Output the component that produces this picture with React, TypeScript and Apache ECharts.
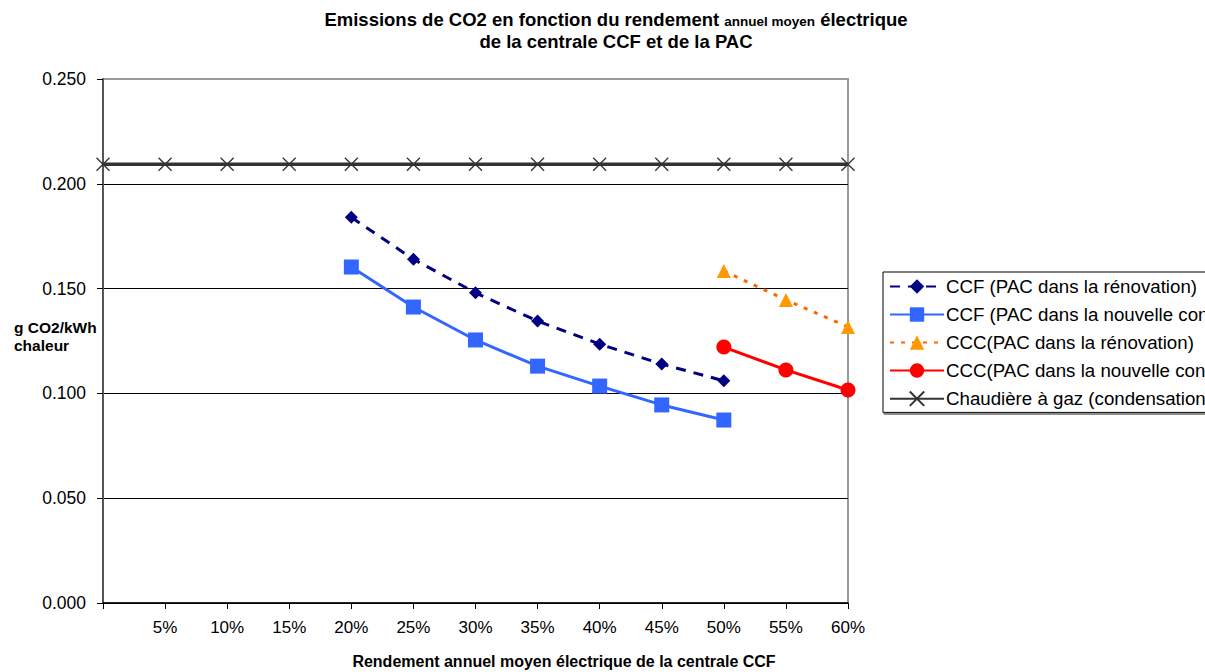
import React, { useEffect, useRef } from "react";
import * as echarts from "echarts";

const xCCF = [20, 25, 30, 35, 40, 45, 50];
const ccfRenovation = [0.184, 0.164, 0.148, 0.1345, 0.1235, 0.114, 0.106];
const ccfNouvelle = [0.1603, 0.1412, 0.1255, 0.113, 0.1035, 0.0945, 0.0873];
const xCCC = [50, 55, 60];
const cccRenovation = [0.1584, 0.1446, 0.1317];
const cccNouvelle = [0.1221, 0.1112, 0.1016];
const xGas = [0, 5, 10, 15, 20, 25, 30, 35, 40, 45, 50, 55, 60];
const gas = [0.2093, 0.2093, 0.2093, 0.2093, 0.2093, 0.2093, 0.2093, 0.2093, 0.2093, 0.2093, 0.2093, 0.2093, 0.2093];

const seriesNames = [
  "CCF (PAC dans la rénovation)",
  "CCF (PAC dans la nouvelle construction)",
  "CCC(PAC dans la rénovation)",
  "CCC(PAC dans la nouvelle construction)",
  "Chaudière à gaz (condensation)",
];

const pair = (xs: number[], ys: number[]) => xs.map((x, i) => [x, ys[i]]);

const FONT = "Arial, 'Liberation Sans', sans-serif";

export default function App() {
  const ref = useRef<HTMLDivElement>(null);
  useEffect(() => {
    if (!ref.current) return;
    const chart = echarts.init(ref.current, undefined, { renderer: "svg" });
    chart.setOption({
      animation: false,
      backgroundColor: "#fff",
      textStyle: { fontFamily: FONT },
      title: {
        text:
          "{b|Emissions de CO2 en fonction du rendement }{s|annuel moyen}{b| électrique}\n{b|de la centrale CCF et de la PAC}",
        left: 611,
        textAlign: "center",
        top: 3,
        textStyle: {
          rich: {
            b: { fontFamily: FONT, fontWeight: "bold", fontSize: 18.5, color: "#000", lineHeight: 22 },
            s: {
              fontFamily: FONT,
              fontWeight: "bold",
              fontSize: 13.5,
              color: "#000",
              lineHeight: 14,
              padding: [4, 0, 0, 0],
              verticalAlign: "middle",
            },
          },
        },
      },
      grid: {
        left: 103,
        right: 357,
        top: 79,
        bottom: 69,
        show: true,
        borderColor: "#999",
        borderWidth: 2,
      },
      legend: {
        orient: "vertical",
        left: 883,
        top: 272,
        padding: [5, 8, 4, 6],
        itemGap: 9,
        itemWidth: 54,
        itemHeight: 18,
        borderColor: "#000",
        borderWidth: 1,
        borderRadius: 0,
        backgroundColor: "#fff",
        shadowColor: "#888",
        shadowOffsetX: 1,
        shadowOffsetY: 2,
        shadowBlur: 0,
        textStyle: { fontFamily: FONT, fontSize: 18.7, color: "#000", lineHeight: 18, padding: [0, 0, 0, -3] },
        data: seriesNames,
      },
      xAxis: {
        type: "value",
        min: 0,
        max: 60,
        interval: 5,
        axisLine: { show: true, onZero: false, lineStyle: { color: "#000", width: 1.5 } },
        axisTick: { show: true, length: 6, lineStyle: { color: "#000" } },
        axisLabel: {
          margin: 16,
          fontFamily: FONT,
          fontSize: 17,
          color: "#000",
          formatter: (v: number) => (v === 0 ? "" : v + "%"),
        },
        splitLine: { show: false },
      },
      yAxis: {
        type: "value",
        min: 0,
        max: 0.25,
        interval: 0.05,
        axisLine: { show: true, lineStyle: { color: "#555", width: 2 } },
        axisTick: { show: true, length: 6, lineStyle: { color: "#000" } },
        axisLabel: {
          margin: 17,
          fontFamily: FONT,
          fontSize: 17.5,
          color: "#000",
          formatter: (v: number) => v.toFixed(3),
        },
        splitLine: { show: true, showMaxLine: false, lineStyle: { color: "#000", width: 1 } },
      },
      graphic: [
        {
          type: "text",
          left: 14,
          top: 318,
          style: {
            text: "g CO2/kWh\nchaleur",
            fontFamily: FONT,
            fontWeight: "bold",
            fontSize: 15.5,
            lineHeight: 18,
            fill: "#000",
          },
        },
        {
          type: "text",
          x: 564,
          y: 661,
          style: {
            text: "Rendement annuel moyen électrique de la centrale CCF",
            fontFamily: FONT,
            fontWeight: "bold",
            fontSize: 16,
            fill: "#000",
            align: "center",
            verticalAlign: "middle",
          },
        },
      ],
      series: [
        {
          name: seriesNames[0],
          type: "line",
          data: pair(xCCF, ccfRenovation),
          symbol: "diamond",
          symbolSize: 13,
          color: "#000080",
          itemStyle: { color: "#000080" },
          lineStyle: { color: "#000080", width: 3, type: [10, 8] },
          z: 4,
        },
        {
          name: seriesNames[1],
          type: "line",
          data: pair(xCCF, ccfNouvelle),
          symbol: "rect",
          symbolSize: 15,
          color: "#3366FF",
          itemStyle: { color: "#3366FF" },
          lineStyle: { color: "#3366FF", width: 3 },
          z: 3,
        },
        {
          name: seriesNames[2],
          type: "line",
          data: pair(xCCC, cccRenovation),
          symbol: "triangle",
          symbolSize: 14,
          color: "#FF9900",
          itemStyle: { color: "#FF9900" },
          lineStyle: { color: "#FF6600", width: 3, type: [4, 7] },
          z: 3,
        },
        {
          name: seriesNames[3],
          type: "line",
          data: pair(xCCC, cccNouvelle),
          symbol: "circle",
          symbolSize: 15,
          color: "#FF0000",
          itemStyle: { color: "#FF0000" },
          lineStyle: { color: "#FF0000", width: 3 },
          z: 3,
        },
        {
          name: seriesNames[4],
          type: "line",
          data: pair(xGas, gas),
          symbol: "path://M0,0L10,10M10,0L0,10",
          symbolSize: 13,
          color: "#333333",
          itemStyle: { color: "none", borderColor: "#333333", borderWidth: 1.3 },
          lineStyle: { color: "#333333", width: 3.5 },
          z: 2,
        },
      ],
    });
    return () => chart.dispose();
  }, []);
  return (
    <div
      ref={ref}
      style={{ position: "fixed", left: 0, top: 0, width: 1205, height: 672 }}
    />
  );
}
